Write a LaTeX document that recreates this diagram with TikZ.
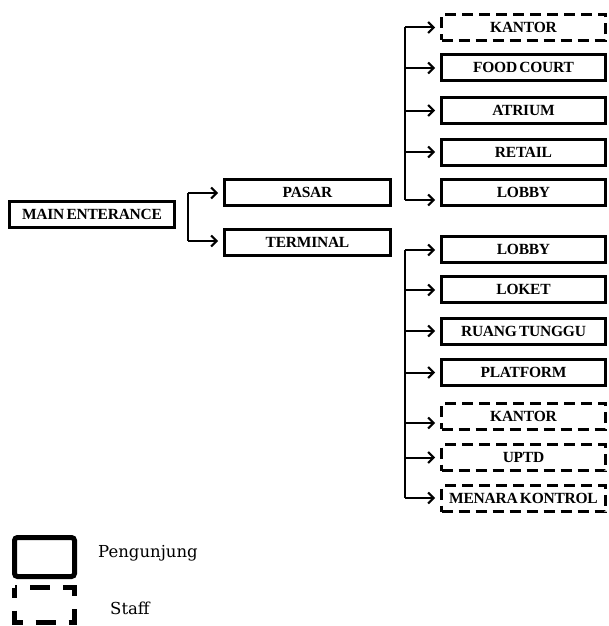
\documentclass[tikz,border=0pt]{standalone}
\usepackage{fontspec}
\setmainfont{Liberation Serif}[LetterSpace=-1.5,WordSpace=0.6]
\newfontfamily\legfont{DejaVu Serif}
\usetikzlibrary{arrows.meta}
\begin{document}
\begin{tikzpicture}[x=1pt,y=-1pt,
  box/.style={draw=black,line width=3pt,minimum height=26pt,inner sep=0pt,
    font=\fontsize{15.5}{16}\selectfont\bfseries, fill=white},
  mainbox/.style={box,minimum width=165pt},
  rbox/.style={box,minimum width=164pt},
  dbox/.style={rbox,dash pattern=on 11pt off 6pt},
  arr/.style={line width=2pt,-{Straight Barb[length=5.5pt,width=11pt,line width=2pt]},shorten >=5pt},
  ln/.style={line width=2pt},
  legtext/.style={font=\legfont\fontsize{16.5}{18}\selectfont,anchor=west,inner sep=0pt}]
\useasboundingbox (0,0) rectangle (609,626);
% first level
\node[mainbox,minimum width=165pt] (main) at (92,214) {MAIN ENTERANCE};
\node[mainbox,minimum width=166pt] (pasar) at (307.5,192.5) {PASAR};
\node[mainbox,minimum width=166pt] (terminal) at (307.5,242.5) {TERMINAL};
% pasar group
\node[dbox] (p1) at (523.5,27.5) {KANTOR};
\node[rbox] (p2) at (523.5,67.5) {FOOD COURT};
\node[rbox] (p3) at (523.5,110.5) {ATRIUM};
\node[rbox] (p4) at (523.5,152) {RETAIL};
\node[rbox] (p5) at (523.5,192.5) {LOBBY};
% terminal group
\node[rbox] (t1) at (523.5,249) {LOBBY};
\node[rbox] (t2) at (523.5,289.5) {LOKET};
\node[rbox] (t3) at (523.5,331) {RUANG TUNGGU};
\node[rbox] (t4) at (523.5,372.5) {PLATFORM};
\node[dbox] (t5) at (523.5,416) {KANTOR};
\node[dbox] (t6) at (523.5,457.5) {UPTD};
\node[dbox] (t7) at (523.5,498.5) {MENARA KONTROL};
% main bracket
\coordinate (m1) at (188,193);
\coordinate (m2) at (188,241);
\draw[ln] (m1) -- (m2);
\draw[arr] (m1) -- (m1 -| pasar.west);
\draw[arr] (m2) -- (m2 -| terminal.west);
% pasar bracket
\coordinate (a1) at (405,27.5);
\coordinate (a2) at (405,68);
\coordinate (a3) at (405,110.5);
\coordinate (a4) at (405,152);
\coordinate (a5) at (405,200);
\draw[ln] (a1) -- (a5);
\draw[arr] (a1) -- (a1 -| p1.west);
\draw[arr] (a2) -- (a2 -| p2.west);
\draw[arr] (a3) -- (a3 -| p3.west);
\draw[arr] (a4) -- (a4 -| p4.west);
\draw[arr] (a5) -- (a5 -| p5.west);
% terminal bracket
\coordinate (b1) at (405,250);
\coordinate (b2) at (405,290);
\coordinate (b3) at (405,331);
\coordinate (b4) at (405,372.5);
\coordinate (b5) at (405,423);
\coordinate (b6) at (405,457.5);
\coordinate (b7) at (405,498);
\draw[ln] (b1) -- (b7);
\draw[arr] (b1) -- (b1 -| t1.west);
\draw[arr] (b2) -- (b2 -| t2.west);
\draw[arr] (b3) -- (b3 -| t3.west);
\draw[arr] (b4) -- (b4 -| t4.west);
\draw[arr] (b5) -- (b5 -| t5.west);
\draw[arr] (b6) -- (b6 -| t6.west);
\draw[arr] (b7) -- (b7 -| t7.west);
% legend
\draw[line width=5pt,rounded corners=3pt] (14.5,537.5) rectangle (74.5,576.5);
\node[legtext] (lg1) at (98,553) {Pengunjung};
\draw[line width=5pt,dash pattern=on 20pt off 13pt,dash phase=10pt] (14.5,587.5) rectangle (74.5,622.5);
\node[legtext] (lg2) at (110,608) {Staff};
\end{tikzpicture}
\end{document}
